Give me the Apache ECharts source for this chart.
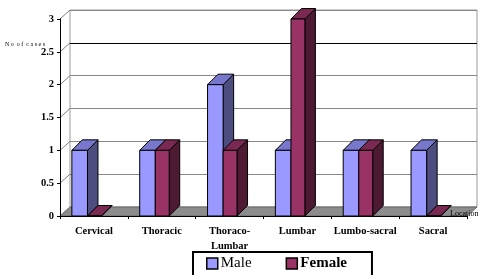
<!DOCTYPE html>
<html>
<head>
<meta charset="utf-8">
<script src="https://cdn.jsdelivr.net/npm/echarts@6/dist/echarts.min.js"></script>
<style>html,body{margin:0;padding:0;background:#fff}#main{width:478px;height:275px}</style>
</head>
<body>
<div id="main"></div>
<script>
var categories = ['Cervical', 'Thoracic', 'Thoraco-\nLumbar', 'Lumbar', 'Lumbo-sacral', 'Sacral'];
var male = [1, 1, 2, 1, 1, 1];
var female = [0, 1, 1, 3, 1, 0];
var yTicks = [0, 0.5, 1, 1.5, 2, 2.5, 3];

var chart = echarts.init(document.getElementById('main'));

// depth of the fake 3d
var DX = 10, DY = -9;
var BX = 10.5, BY = -10.5;
var FONT = 'Liberation Serif';

function barRender(offset, width, faces) {
    return function(params, api) {
        var band = api.size([1, 0])[0];
        var c = api.coord([api.value(0), api.value(1)]);
        var b = api.coord([api.value(0), 0]);
        var x0 = c[0] + offset * band, x1 = x0 + width * band;
        var top = c[1], bot = b[1];
        var line = {stroke: '#000', lineWidth: 1};
        return {
            type: 'group',
            children: [
                {type: 'polygon', shape: {points: [[x1, bot], [x1 + BX, bot + BY], [x1 + BX, top + BY], [x1, top]]},
                 style: Object.assign({fill: faces.side}, line)},
                {type: 'polygon', shape: {points: [[x0, top], [x1, top], [x1 + BX, top + BY], [x0 + BX, top + BY]]},
                 style: Object.assign({fill: faces.top}, line)},
                {type: 'rect', shape: {x: x0, y: top, width: x1 - x0, height: bot - top},
                 style: Object.assign({fill: faces.front}, line)}
            ]
        };
    };
}

function wallRender(params, api) {
    var band = api.size([1, 0])[0];
    var p = api.coord([0, api.value(1)]);
    var left = p[0] - band / 2;
    var kids = [{type: 'line', shape: {x1: left, y1: p[1], x2: left + DX, y2: p[1] + DY},
                 style: {stroke: '#808080', lineWidth: 1}}];
    if (params.dataIndex === 0) {
        var right = left + band * categories.length;
        kids.unshift({type: 'polygon',
            shape: {points: [[left, p[1]], [left + DX, p[1] + DY], [right + DX, p[1] + DY], [right, p[1]]]},
            style: {fill: '#8c8c8c', stroke: '#666', lineWidth: 1}});
    }
    return {type: 'group', children: kids};
}

var lineColors = yTicks.map(function(v) { return v === 2.5 ? '#000' : '#888'; });

option = {
    animation: false,
    backgroundColor: '#fff',
    grid: [
        {left: 60, right: 11, top: 19, bottom: 59},
        {left: 70, right: 1, top: 10, bottom: 68, show: true, borderColor: '#999', borderWidth: 1, backgroundColor: '#fff', z: -1}
    ],
    xAxis: [
        {
            type: 'category', gridIndex: 0, data: categories,
            axisLine: {lineStyle: {color: '#000', width: 1}},
            axisTick: {show: true, length: 3, lineStyle: {color: '#000'}},
            axisLabel: {fontFamily: FONT, fontWeight: 'bold', fontSize: 10.5, color: '#000', margin: 8, lineHeight: 15, interval: 0},
            z: 3
        },
        {type: 'value', gridIndex: 1, min: 0, max: 1, show: false}
    ],
    yAxis: [
        {
            type: 'value', gridIndex: 0, min: 0, max: 3, interval: 0.5,
            axisLine: {show: true, lineStyle: {color: '#000', width: 1}},
            axisTick: {show: true, length: 3, lineStyle: {color: '#000'}},
            axisLabel: {fontFamily: FONT, fontWeight: 'bold', fontSize: 10.5, color: '#000', margin: 6},
            splitLine: {show: false},
            z: 3
        },
        {
            type: 'value', gridIndex: 1, min: 0, max: 3, interval: 0.5,
            axisLine: {show: false}, axisTick: {show: false}, axisLabel: {show: false},
            splitLine: {show: true, lineStyle: {color: lineColors, width: 1}}
        }
    ],
    legend: {
        left: 193, top: 252,
        padding: [4, 25, 8, 13],
        itemGap: 34, itemWidth: 11, itemHeight: 11,
        borderColor: '#000', borderWidth: 2,
        icon: 'rect',
        itemStyle: {borderColor: '#000', borderWidth: 1.5},
        textStyle: {fontFamily: FONT, fontSize: 15, color: '#000', padding: [0, 0, 0, -2]},
        data: [
            {name: 'Male', textStyle: {fontWeight: 'normal'}},
            {name: 'Female', textStyle: {fontWeight: 'bold'}}
        ]
    },
    graphic: [
        {type: 'text', left: 5, top: 41, z: 10, style: {text: 'N o  o f  c a s e s', font: '6px ' + FONT, fill: '#000'}},
        {type: 'text', x: 450, y: 210, z: 10, style: {text: 'Location', font: '8px ' + FONT, fill: '#000'}}
    ],
    series: [
        {
            type: 'custom', name: 'walls', xAxisIndex: 0, yAxisIndex: 0, z: 1,
            data: yTicks.map(function(v) { return [0, v]; }),
            renderItem: wallRender, silent: true
        },
        {
            type: 'custom', name: 'Male', xAxisIndex: 0, yAxisIndex: 0, z: 2,
            itemStyle: {color: '#9999ff'},
            encode: {x: 0, y: 1},
            data: male.map(function(v, i) { return [i, v]; }),
            renderItem: barRender(-0.325, 0.23, {front: '#9999ff', side: '#4d4d80', top: '#7777cc'})
        },
        {
            type: 'custom', name: 'Female', xAxisIndex: 0, yAxisIndex: 0, z: 2,
            itemStyle: {color: '#993366'},
            encode: {x: 0, y: 1},
            data: female.map(function(v, i) { return [i, v]; }),
            renderItem: barRender(-0.095, 0.205, {front: '#993366', side: '#4d1933', top: '#7a2952'})
        }
    ]
};

chart.setOption(option);
</script>
</body>
</html>
